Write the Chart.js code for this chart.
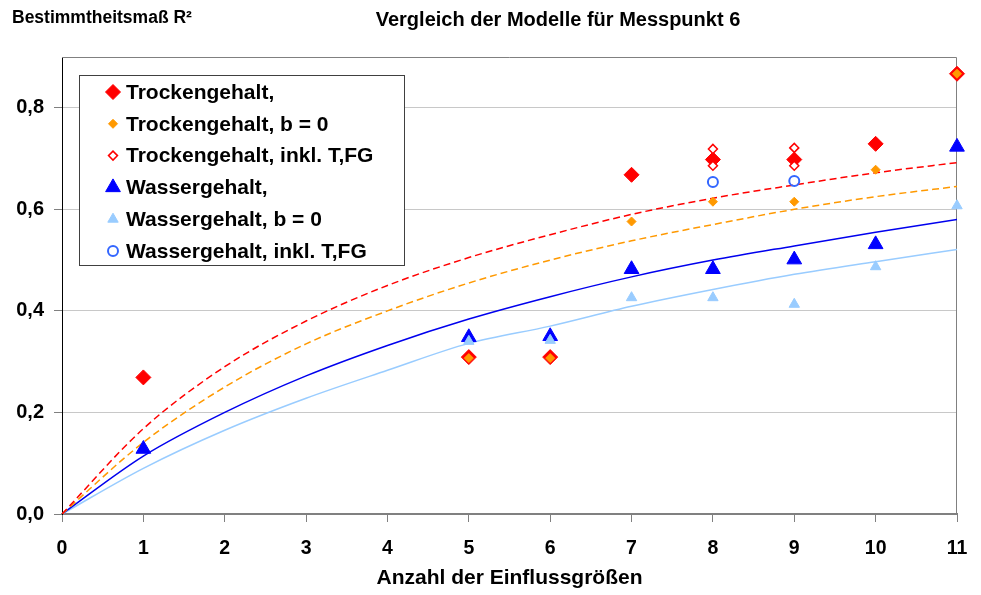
<!DOCTYPE html>
<html>
<head>
<meta charset="utf-8">
<script src="https://cdn.jsdelivr.net/npm/chart.js@4/dist/chart.umd.min.js"></script>
<style>
  html, body { margin: 0; padding: 0; background: #fff; }
  #wrap { width: 981px; height: 595px; position: relative; }
</style>
</head>
<body>
<div id="wrap"><canvas id="chart"></canvas></div>
<script>
// measured points (R² per number of inputs)
const xTrocken = [1, 5, 6, 7, 8, 9, 10, 11];
const yTrocken = [0.269, 0.309, 0.309, 0.668, 0.698, 0.698, 0.729, 0.867];
const xTrockenB0 = [5, 6, 7, 8, 9, 10, 11];
const yTrockenB0 = [0.307, 0.307, 0.576, 0.615, 0.615, 0.678, 0.867];
const xTrockenInkl = [8, 8, 9, 9];
const yTrockenInkl = [0.719, 0.686, 0.721, 0.686];
const xWasser = [1, 5, 6, 7, 8, 9, 10, 11];
const yWasser = [0.128, 0.348, 0.350, 0.482, 0.482, 0.501, 0.531, 0.723];
const xWasserB0 = [5, 6, 7, 8, 9, 10, 11];
const yWasserB0 = [0.340, 0.342, 0.426, 0.426, 0.413, 0.487, 0.607];
const xWasserInkl = [8, 9];
const yWasserInkl = [0.654, 0.656];

// trend curves
const trendX = [0, 1, 2, 3, 4, 5, 6, 7, 8, 9, 10, 11];
const trendTrocken   = [0, 0.168, 0.290, 0.380, 0.450, 0.505, 0.550, 0.590, 0.622, 0.648, 0.672, 0.692];
const trendTrockenB0 = [0, 0.141, 0.250, 0.335, 0.400, 0.455, 0.500, 0.538, 0.570, 0.600, 0.625, 0.645];
const trendWasser    = [0, 0.114, 0.200, 0.272, 0.332, 0.384, 0.428, 0.467, 0.500, 0.528, 0.555, 0.580];
const trendWasserB0  = [0, 0.090, 0.165, 0.228, 0.283, 0.336, 0.370, 0.409, 0.442, 0.472, 0.497, 0.521];

const legendLabels = [
  "Trockengehalt,",
  "Trockengehalt, b = 0",
  "Trockengehalt, inkl. T,FG",
  "Wassergehalt,",
  "Wassergehalt, b = 0",
  "Wassergehalt, inkl. T,FG"
];

const FONT = "'Liberation Sans', Arial, sans-serif";
const pts = (xs, ys) => xs.map((x, i) => ({ x, y: ys[i] }));

function scatterSet(label, xs, ys, style, order) {
  return Object.assign({
    label, type: "scatter", data: pts(xs, ys), order, showLine: false, clip: false
  }, style);
}
function trendSet(ys, color, dash) {
  return {
    type: "line", data: pts(trendX, ys), order: 20,
    borderColor: color, borderWidth: 1.5, borderDash: dash,
    pointRadius: 0, cubicInterpolationMode: "monotone", fill: false
  };
}

const markers = [
  { pointStyle: "rectRot", pointRadius: 7.5, backgroundColor: "#ff0000", borderColor: "#ff0000", borderWidth: 1 },
  { pointStyle: "rectRot", pointRadius: 4.5, backgroundColor: "#ff9900", borderColor: "#ff9900", borderWidth: 1 },
  { pointStyle: "rectRot", pointRadius: 4.5, backgroundColor: "#ffffff", borderColor: "#ff0000", borderWidth: 1.5 },
  { pointStyle: "triangle", pointRadius: 8.5, backgroundColor: "#0000ff", borderColor: "#0000ff", borderWidth: 1 },
  { pointStyle: "triangle", pointRadius: 6, backgroundColor: "#99ccff", borderColor: "#99ccff", borderWidth: 1 },
  { pointStyle: "circle", pointRadius: 5, backgroundColor: "rgba(0,0,0,0)", borderColor: "#3366ff", borderWidth: 2 }
];

const frame = {
  id: "frame",
  beforeDatasetsDraw(chart) {
    const a = chart.chartArea, ctx = chart.ctx;
    ctx.save();
    ctx.strokeStyle = "#808080";
    ctx.lineWidth = 1;
    ctx.beginPath();
    ctx.moveTo(a.left, a.top + 0.5);
    ctx.lineTo(a.right - 0.5, a.top + 0.5);
    ctx.lineTo(a.right - 0.5, a.bottom);
    ctx.stroke();
    ctx.restore();
  },
  afterDraw(chart) {
    const ctx = chart.ctx;
    ctx.save();
    ctx.fillStyle = "#000";
    ctx.textBaseline = "middle";
    ctx.font = "bold 17.5px " + FONT;
    ctx.textAlign = "left";
    ctx.fillText("Bestimmtheitsmaß R²", 12, 18);
    ctx.font = "bold 20px " + FONT;
    ctx.textAlign = "center";
    ctx.fillText("Vergleich der Modelle für Messpunkt 6", 558, 20);

    // legend box
    const bx = 79.5, by = 75.5, bw = 325, bh = 190;
    ctx.fillStyle = "#fff";
    ctx.fillRect(bx, by, bw, bh);
    ctx.strokeStyle = "#404040";
    ctx.lineWidth = 1;
    ctx.strokeRect(bx, by, bw, bh);
    ctx.font = "bold 21px " + FONT;
    ctx.textAlign = "left";
    legendLabels.forEach((t, i) => {
      const y = 92 + i * 31.8;
      const m = markers[i];
      ctx.fillStyle = m.backgroundColor;
      ctx.strokeStyle = m.borderColor;
      ctx.lineWidth = m.borderWidth;
      Chart.helpers.drawPoint(ctx, {
        pointStyle: m.pointStyle, radius: m.pointRadius, rotation: 0, borderWidth: m.borderWidth
      }, 113, y);
      ctx.fillStyle = "#000";
      ctx.fillText(t, 126, y + 1);
    });
    ctx.restore();
  }
};

new Chart(document.getElementById("chart"), {
  type: "scatter",
  data: {
    datasets: [
      scatterSet(legendLabels[0], xTrocken, yTrocken, markers[0], 6),
      scatterSet(legendLabels[1], xTrockenB0, yTrockenB0, markers[1], 5),
      scatterSet(legendLabels[2], xTrockenInkl, yTrockenInkl, markers[2], 4),
      scatterSet(legendLabels[3], xWasser, yWasser, markers[3], 3),
      scatterSet(legendLabels[4], xWasserB0, yWasserB0, markers[4], 2),
      scatterSet(legendLabels[5], xWasserInkl, yWasserInkl, markers[5], 1),
      trendSet(trendTrocken, "#ff0000", [7, 4]),
      trendSet(trendTrockenB0, "#ff9900", [7, 4]),
      trendSet(trendWasser, "#0000ee", []),
      trendSet(trendWasserB0, "#99ccff", [])
    ]
  },
  options: {
    responsive: true,
    maintainAspectRatio: false,
    animation: false,
    layout: { padding: { top: 57, right: 24, left: 0, bottom: 0 } },
    plugins: { legend: { display: false }, tooltip: { enabled: false } },
    scales: {
      x: {
        type: "linear", min: 0, max: 11,
        ticks: { stepSize: 1, color: "#000", font: { family: FONT, size: 19.5, weight: "bold" }, padding: 15 },
        grid: { drawOnChartArea: false, drawTicks: true, tickLength: 8, color: "#808080" },
        border: { color: "#808080", width: 2 },
        title: { display: true, text: "Anzahl der Einflussgrößen", color: "#000",
                 font: { family: FONT, size: 21, weight: "bold" }, padding: { top: 0, bottom: 4 } },
        afterFit: s => { s.height = 81; s.paddingLeft = 0; s.paddingRight = 0; }
      },
      y: {
        min: 0, max: 0.9,
        afterBuildTicks: s => { s.ticks = s.ticks.filter(t => Math.abs(t.value * 5 - Math.round(t.value * 5)) < 1e-6); },
        ticks: { stepSize: 0.2, color: "#000", font: { family: FONT, size: 20, weight: "bold" }, padding: 10,
                 callback: v => v.toFixed(1).replace(".", ",") },
        grid: { color: "#c8c8c8", tickLength: 8, drawTicks: true, tickColor: "#808080" },
        border: { color: "#000", width: 1 },
        afterFit: s => { s.width = 62; s.paddingTop = 0; s.paddingBottom = 0; }
      }
    }
  },
  plugins: [frame]
});
</script>
</body>
</html>
